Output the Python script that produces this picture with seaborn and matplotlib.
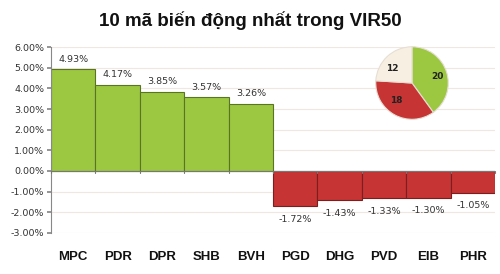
import matplotlib
matplotlib.use("Agg")
import matplotlib.pyplot as plt
import seaborn as sns
import pandas as pd
import numpy as np

categories = ["MPC", "PDR", "DPR", "SHB", "BVH", "PGD", "DHG", "PVD", "EIB", "PHR"]
values = [4.93, 4.17, 3.85, 3.57, 3.26, -1.72, -1.43, -1.33, -1.30, -1.05]
value_labels = ["4.93%", "4.17%", "3.85%", "3.57%", "3.26%", "-1.72%", "-1.43%", "-1.33%", "-1.30%", "-1.05%"]
yticks = [-3, -2, -1, 0, 1, 2, 3, 4, 5, 6]
pie_values = [20, 18, 12]
pie_labels = ["20", "18", "12"]
title = "10 mã biến động nhất trong VIR50"

sns.set_theme(style="white")
plt.rcParams['font.family'] = ['DejaVu Sans']

green = "#9CC841"
red = "#C73434"
cream = "#F7F0E2"

df = pd.DataFrame({"code": categories, "val": values})
df["sign"] = np.where(df["val"] >= 0, "up", "down")

fig = plt.figure(figsize=(5.0, 2.74), dpi=100)
ax = fig.add_axes([0.102, 0.150, 0.888, 0.678])

sns.barplot(data=df, x="code", y="val", hue="sign", palette={"up": green, "down": red},
            width=1.0, dodge=False, legend=False, ax=ax, saturation=1,
            edgecolor="#5a7424", linewidth=0.8)
for bar in ax.patches:
    if bar.get_height() < 0:
        bar.set_edgecolor("#7a1f1f")

ax.set_ylim(-3, 6)
ax.set_xlim(-0.5, 9.5)
ax.set_yticks(yticks)
ax.set_yticklabels([f"{t:.2f}%" for t in yticks], fontsize=6.8, color="#333333")
ax.set_xticks(range(len(categories)))
ax.set_xticklabels(categories, fontsize=9.5, fontweight="bold", family="Liberation Sans", color="#111111")
ax.tick_params(axis="x", length=0, pad=13)
ax.tick_params(axis="y", length=3, color="#888888", left=True, pad=2)
ax.set_xlabel("")
ax.set_ylabel("")
ax.yaxis.grid(True, color="#F0E8E0", linewidth=0.8)
ax.set_axisbelow(True)
for s in ["top", "right", "bottom"]:
    ax.spines[s].set_visible(False)
ax.spines["left"].set_color("#888888")
ax.spines["left"].set_linewidth(0.8)
ax.axhline(0, color="#777777", linewidth=0.8, zorder=3)
for i in range(len(categories) + 1):
    ax.plot([i - 0.5, i - 0.5], [0, -0.12], color="#777777", linewidth=0.8, zorder=3, clip_on=False)

for i, (v, lab) in enumerate(zip(values, value_labels)):
    if v >= 0:
        ax.text(i, v + 0.48, lab, ha="center", va="center", fontsize=6.8, color="#333333")
    else:
        ax.text(i, v - 0.62, lab, ha="center", va="center", fontsize=6.8, color="#333333")

fig.text(0.5, 0.925, title, ha="center", va="center", fontsize=13.5, fontweight="bold",
         family="Liberation Sans", color="#111111")

pax = fig.add_axes([0.75, 0.562, 0.148, 0.27])
wedges, texts = pax.pie(pie_values, colors=[green, red, cream], startangle=90, counterclock=False,
                        labels=pie_labels, labeldistance=0.55, radius=1.0,
                        wedgeprops=dict(edgecolor="#e6ded4", linewidth=0.8),
                        textprops=dict(fontsize=6.5, fontweight="bold", color="#222222"))
pax.set_xlim(-1.02, 1.02)
pax.set_ylim(-1.02, 1.02)
pax.set_aspect("equal")

fig.savefig("out.png", dpi=100)
